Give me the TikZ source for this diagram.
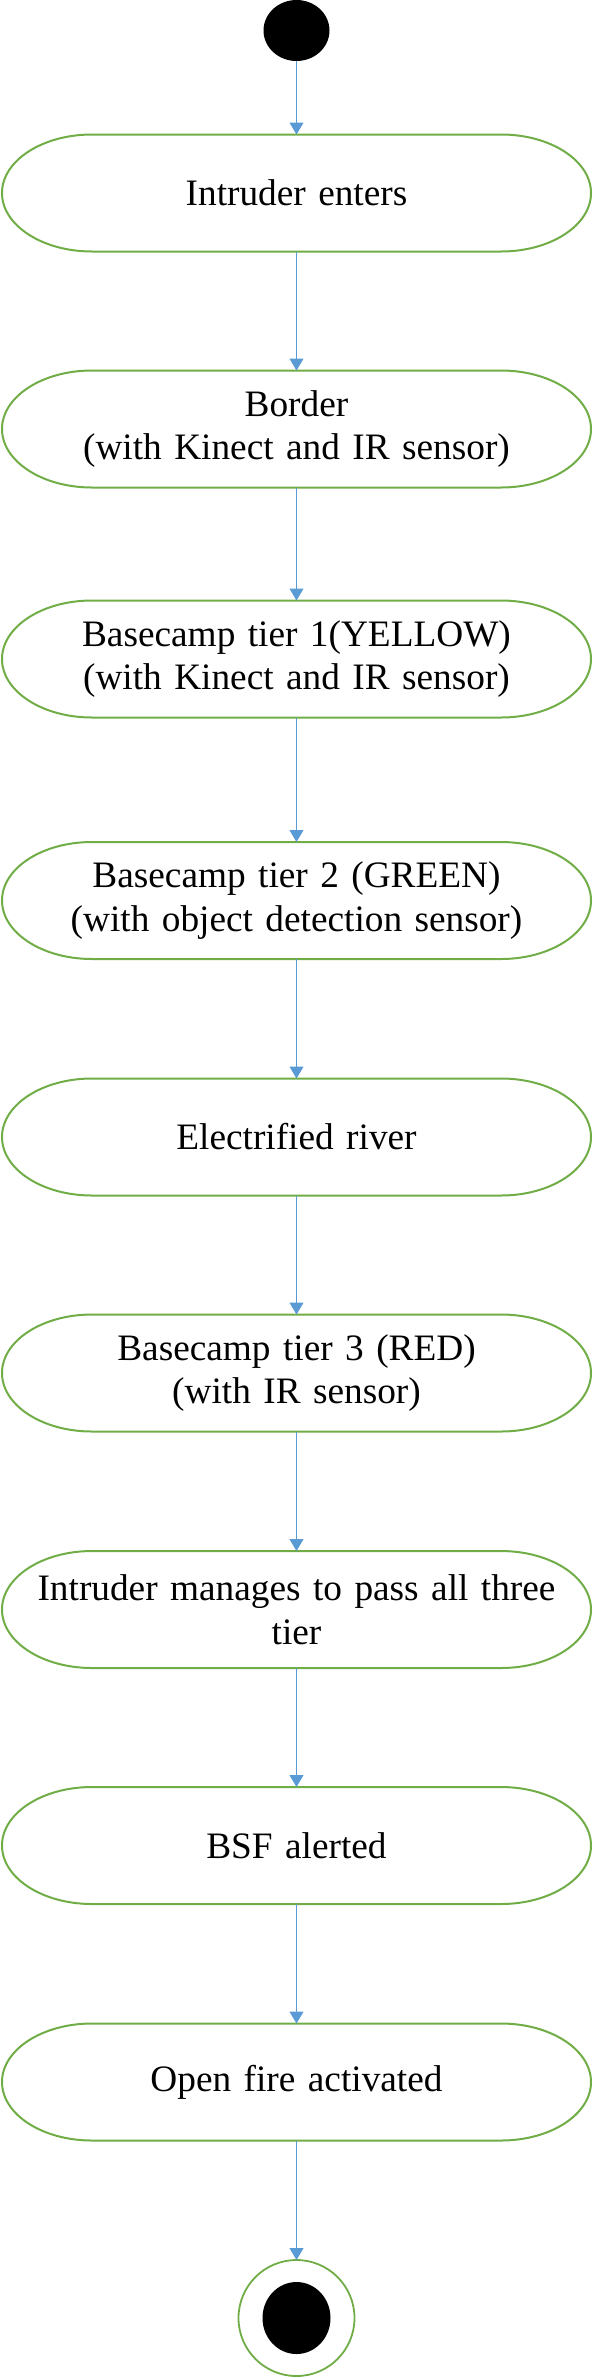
\documentclass[tikz,border=0pt]{standalone}
\usepackage{fontspec}
\setmainfont{Liberation Serif}
\usetikzlibrary{shapes.geometric,arrows.meta}
\definecolor{bordergreen}{HTML}{70AD47}
\definecolor{arrowblue}{HTML}{5B9BD5}
\tikzset{
  term/.style={rectangle, draw=none, minimum width=589pt, minimum height=117pt,
    inner sep=0pt, outer sep=0pt, align=center, text width=560pt,
    font=\fontsize{37.3}{43.5}\selectfont},
  termline/.style={draw=bordergreen, line width=2pt},
  arr/.style={draw=arrowblue, line width=1pt, -{Triangle[width=14pt,length=12pt]}},
}
\newcommand{\termshape}[1]{%
  \draw[termline] ([xshift=90pt]#1.north west) -- ([xshift=-90pt]#1.north east)
    arc[start angle=90, end angle=-90, x radius=90pt, y radius=58.5pt]
    -- ([xshift=90pt]#1.south west)
    arc[start angle=270, end angle=90, x radius=90pt, y radius=58.5pt] -- cycle;}
\begin{document}
\begin{tikzpicture}[x=1pt,y=1pt]
\useasboundingbox (0,0) rectangle (593,-2378);
\node[ellipse, fill=black, minimum width=66pt, minimum height=61pt, inner sep=0pt, outer sep=0pt] (start) at (296.5,-30.5) {};
\node[term] (n1) at (296.5,-193) {Intruder enters};
\node[term] (n2) at (296.5,-429) {Border\\(with Kinect and IR sensor)};
\node[term] (n3) at (296.5,-659) {Basecamp tier 1(YELLOW)\\(with Kinect and IR sensor)};
\node[term] (n4) at (296.5,-900.5) {Basecamp tier 2 (GREEN)\\(with object detection sensor)};
\node[term] (n5) at (296.5,-1137) {Electrified river};
\node[term] (n6) at (296.5,-1373) {Basecamp tier 3 (RED)\\(with IR sensor)};
\node[term] (n7) at (296.5,-1609.5) {Intruder manages to pass all three\\tier};
\node[term] (n8) at (296.5,-1845.5) {BSF alerted};
\node[term] (n9) at (296.5,-2082) {Open fire activated};
\node[ellipse, draw=bordergreen, line width=1.8pt, minimum width=116pt, minimum height=116pt, inner sep=0pt, outer sep=0pt] (endo) at (296.5,-2318) {};
\node[ellipse, fill=black, minimum width=68pt, minimum height=72pt, inner sep=0pt] (endi) at (296.5,-2318) {};
\foreach \n in {n1,n2,n3,n4,n5,n6,n7,n8,n9} {\termshape{\n}}
\draw[arr] (start) -- (n1);
\draw[arr] (n1) -- (n2);
\draw[arr] (n2) -- (n3);
\draw[arr] (n3) -- (n4);
\draw[arr] (n4) -- (n5);
\draw[arr] (n5) -- (n6);
\draw[arr] (n6) -- (n7);
\draw[arr] (n7) -- (n8);
\draw[arr] (n8) -- (n9);
\draw[arr] (n9) -- (endo);
\end{tikzpicture}
\end{document}
